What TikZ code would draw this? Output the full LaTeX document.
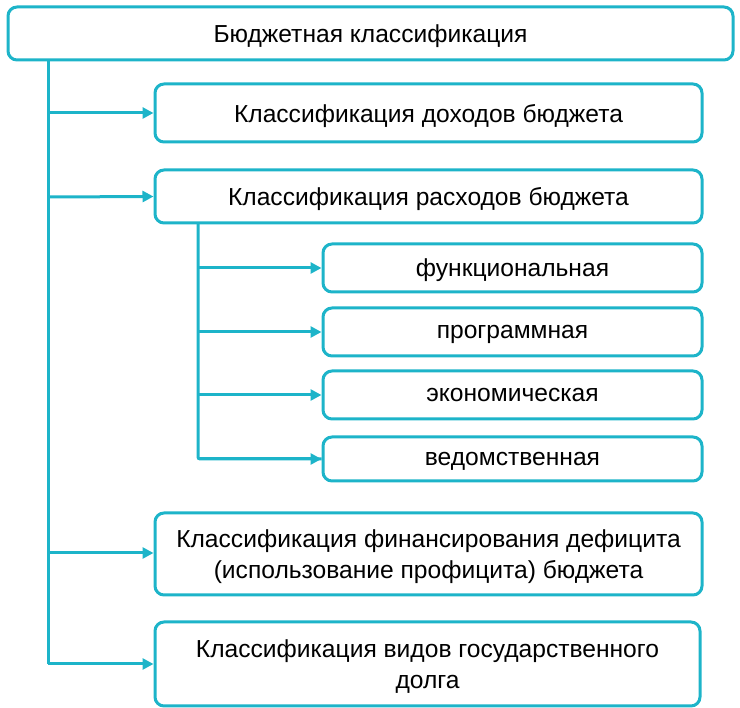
\documentclass[tikz,border=0pt]{standalone}
\usepackage{fontspec}
\setmainfont{Liberation Sans}
\usetikzlibrary{arrows.meta}
\definecolor{tl}{HTML}{1DB4C9}
\begin{document}
\begin{tikzpicture}[x=1pt,y=-1pt,
  box/.style={draw=tl,line width=3pt,rounded corners=9pt,fill=white,align=center,font=\fontsize{24.6}{31}\selectfont,inner sep=0pt,text depth=0pt},
  conn/.style={draw=tl,line width=3pt,-{Triangle[length=11pt,width=11pt]}},
  trunk/.style={draw=tl,line width=3pt}]
\useasboundingbox (0,0) rectangle (740,708);
\node[box,minimum width=725pt,minimum height=53pt] (top) at (370.5,33.5) {Бюджетная классификация};
\node[box,minimum width=547pt,minimum height=58pt] (inc) at (428.5,113) {Классификация доходов бюджета};
\node[box,minimum width=547pt,minimum height=53pt] (exp) at (428.5,196.5) {Классификация расходов бюджета};
\node[box,minimum width=379pt,minimum height=48pt] (s1) at (512.5,268) {функциональная};
\node[box,minimum width=379pt,minimum height=48pt] (s2) at (512.5,332) {программная};
\node[box,minimum width=379pt,minimum height=48pt] (s3) at (512.5,395) {экономическая};
\node[box,minimum width=379pt,minimum height=44pt] (s4) at (512.5,459) {ведомственная};
\node[box,minimum width=547pt,minimum height=82pt] (fin) at (428.5,554) {Классификация финансирования дефицита\\(использование профицита) бюджета};
\node[box,minimum width=545pt,minimum height=84pt] (debt) at (427.5,664) {Классификация видов государственного\\долга};
\coordinate (t0) at (48,60);
\coordinate (t1) at (48,113);
\coordinate (t2) at (48,197);
\coordinate (t3) at (48,553);
\coordinate (t4) at (48,664);
\draw[trunk] (t0) -- (t4);
\draw[conn] (t1) -- (inc.west);
\draw[conn] (t2) -- (exp.west);
\draw[conn] (t3) -- (fin.west |- t3);
\draw[conn] (t4) -- (debt.west |- t4);
\coordinate (u0) at (198,223);
\coordinate (u1) at (198,268);
\coordinate (u2) at (198,332);
\coordinate (u3) at (198,395);
\coordinate (u4) at (198,459);
\draw[trunk,rounded corners=2pt] (u0) -- (u4) -- (s4.west);
\draw[conn] (u4) -- (s4.west);
\draw[conn] (u1) -- (s1.west);
\draw[conn] (u2) -- (s2.west);
\draw[conn] (u3) -- (s3.west);
\end{tikzpicture}
\end{document}
